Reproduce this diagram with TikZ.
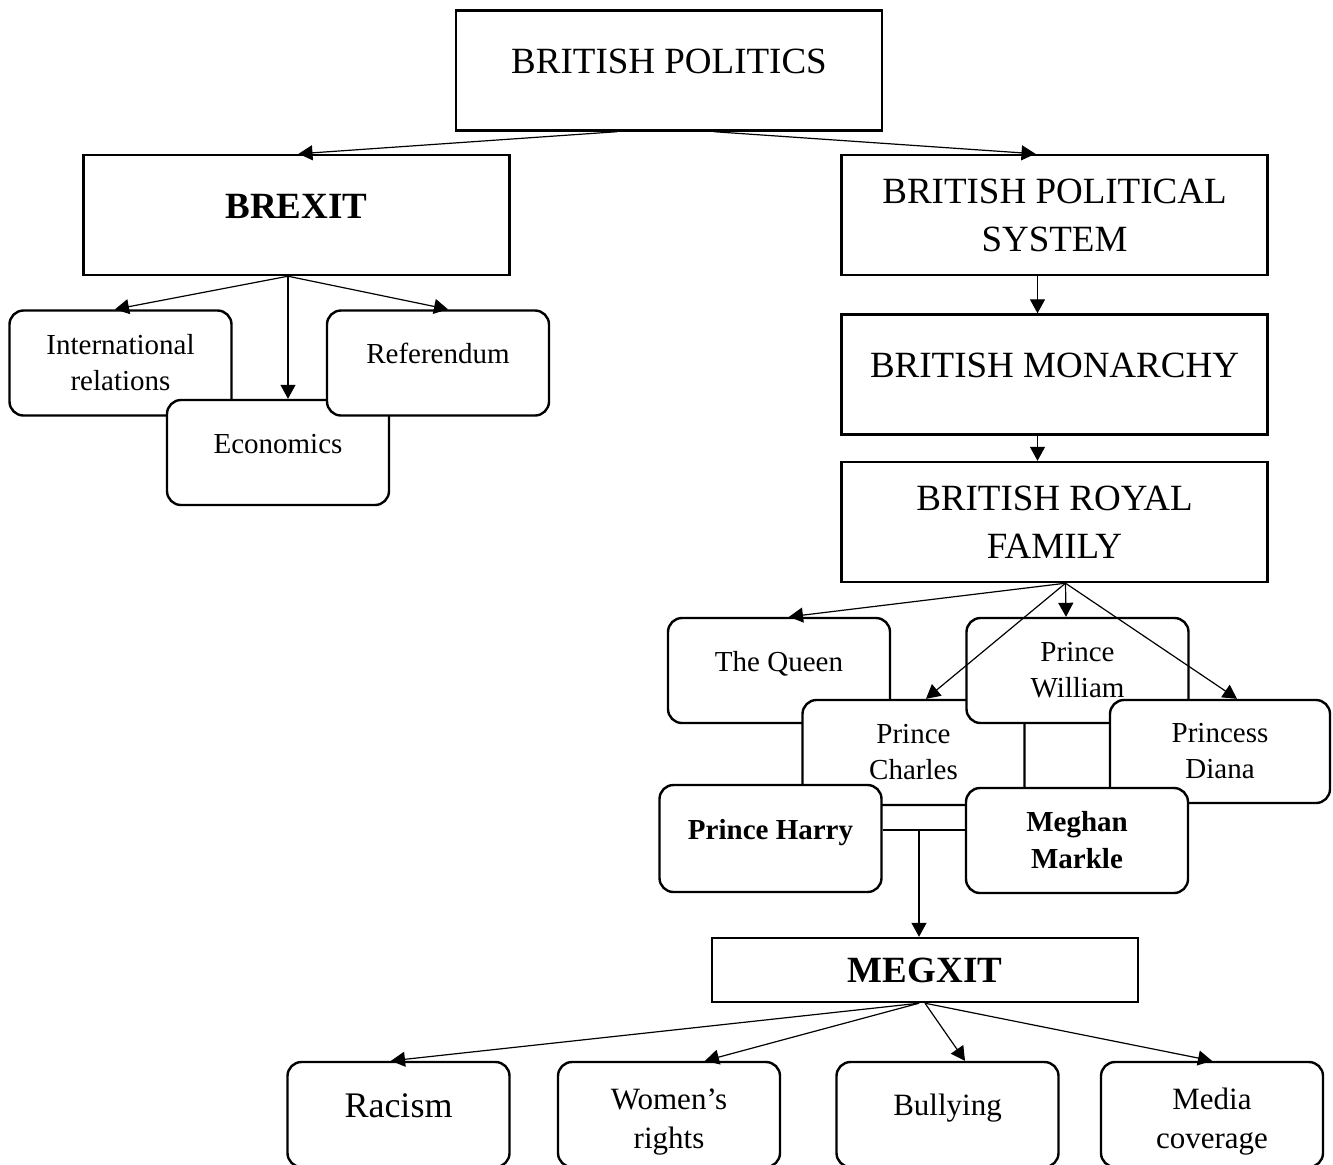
\documentclass[tikz,border=0pt]{standalone}
\usepackage{fontspec}
\setmainfont{Liberation Serif}
\usetikzlibrary{arrows.meta, calc}

\begin{document}
\begin{tikzpicture}[x=0.5pt, y=-0.5pt,
  box/.style={draw, line width=1.2pt, fill=white, align=center, inner sep=2pt},
  card/.style={box, rounded corners=7pt, minimum width=111pt, minimum height=52.5pt},
  wide/.style={box, minimum width=213pt, minimum height=60pt},
  bigtext/.style={font=\fontsize{18.5}{24}\selectfont},
  bigbold/.style={font=\fontsize{18.5}{24}\selectfont\bfseries},
  smalltext/.style={font=\fontsize{14.5}{18}\selectfont},
  boldtext/.style={font=\fontsize{14.5}{18.5}\selectfont\bfseries},
  midtext/.style={font=\fontsize{15.5}{19.5}\selectfont},
  lift/.style={text height=#1, text depth=9pt},
  sink/.style={text height=#1, text depth=0pt},
  link/.style={-{Triangle[length=7pt, width=7.5pt]}, line width=0.6pt}]

  \useasboundingbox (0,0) rectangle (1333,1164);

  % Top level
  \node[wide, bigtext, lift=12pt] (bp) at (669,70.5) {BRITISH POLITICS};
  \node[wide, bigbold, lift=12pt] (brexit) at (296.5,215) {BREXIT};
  \node[wide, bigtext] (bps) at (1054.5,215) {BRITISH POLITICAL\\SYSTEM};
  \node[wide, bigtext, lift=12pt] (bm) at (1054.5,374.5) {BRITISH MONARCHY};
  \node[wide, bigtext] (brf) at (1054.5,522) {BRITISH ROYAL\\FAMILY};

  % Brexit topics
  \node[card, smalltext] (ir) at (120.5,363) {International\\relations};
  \node[card, smalltext, lift=9.5pt] (eco) at (278,452.5) {Economics};
  \node[card, smalltext, lift=9.5pt] (ref) at (438,363) {Referendum};

  % Royal family
  \node[card, smalltext, lift=9.5pt] (queen) at (779,670.5) {The Queen};
  \node[card, smalltext] (charles) at (913.5,752.5) {Prince\\Charles};
  \node[card, smalltext] (william) at (1077.5,670.5) {Prince\\William};
  \node[card, smalltext, minimum width=110pt, minimum height=51.5pt] (diana) at (1220,751.5) {Princess\\Diana};
  \node[card, boldtext, lift=9.5pt, minimum height=53.5pt] (harry) at (770.5,838.5) {Prince Harry};
  \node[card, boldtext] (meghan) at (1077,840.5) {Meghan\\Markle};
  \coordinate (wed) at (919,830);

  % Megxit
  \node[box, bigbold, minimum width=213pt, minimum height=32pt] (megxit) at (925,970) {MEGXIT};
  \node[card, font=\fontsize{18}{22}\selectfont, lift=12pt] (racism) at (398.5,1114.5) {Racism};
  \node[card, midtext, sink=34pt] (women) at (669,1114.5) {Women’s\\rights};
  \node[card, midtext, lift=10pt] (bully) at (947.5,1114.5) {Bullying};
  \node[card, midtext, sink=34pt] (media) at (1212,1114.5) {Media\\coverage};

  % Connectors
  \draw[link] ($(bp.south)+(-52,0)$) -- ($(brexit.north)+(2,0)$);
  \draw[link] ($(bp.south)+(45,0)$) -- ($(bps.north)+(-19,0)$);
  \draw[link] ($(bps.south)+(-17,0)$) -- ($(bm.north)+(-17,0)$);
  \draw[link] ($(bm.south)+(-17,0)$) -- ($(brf.north)+(-17,0)$);

  \draw[link] ($(brexit.south)+(-8.5,0)$) -- ($(ir.north)+(-5.5,0)$);
  \draw[link] ($(brexit.south)+(-8.5,0)$) -- ($(eco.north)+(10,0)$);
  \draw[link] ($(brexit.south)+(-8.5,0)$) -- ($(ref.north)+(10,0)$);

  \draw[link] ($(brf.south)+(11,0)$) -- ($(queen.north)+(10,0)$);
  \draw[link] ($(brf.south)+(11,0)$) -- ($(william.north)+(-11.5,0)$);
  \draw[link] ($(brf.south)+(11,0)$) -- ($(charles.north)+(12.5,0)$);
  \draw[link] ($(brf.south)+(11,0)$) -- ($(diana.north)+(17,0)$);

  \draw[line width=0.6pt] (harry.east |- wed) -- (meghan.west |- wed);
  \draw[link] (wed) -- (wed |- megxit.north);

  \draw[link] ($(megxit.south)+(-6,0)$) -- ($(racism.north)+(-7.5,0)$);
  \draw[link] ($(megxit.south)+(-6,0)$) -- ($(women.north)+(36,0)$);
  \draw[link] (megxit.south) -- ($(bully.north)+(17.5,0)$);
  \draw[link] (megxit.south) -- (media.north);

\end{tikzpicture}
\end{document}
